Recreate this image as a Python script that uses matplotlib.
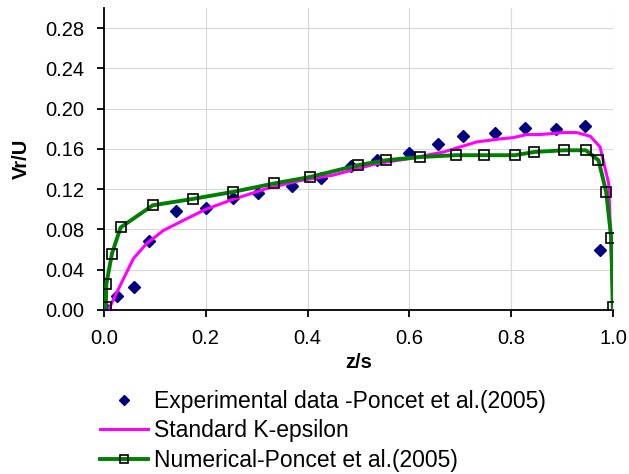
import matplotlib
matplotlib.use("Agg")
import matplotlib.pyplot as plt

plt.rcParams['font.family'] = ['Liberation Sans', 'DejaVu Sans']

# experimental data (diamonds)
exp_z = [0.0, 0.025, 0.06, 0.088, 0.141, 0.2, 0.254, 0.303, 0.369, 0.426,
         0.485, 0.536, 0.599, 0.655, 0.706, 0.767, 0.826, 0.888, 0.945, 0.973]
exp_v = [0.003, 0.014, 0.0225, 0.069, 0.0985, 0.1015, 0.111, 0.1164, 0.1233, 0.1316,
         0.143, 0.1495, 0.156, 0.1647, 0.173, 0.176, 0.181, 0.1796, 0.183, 0.0595]

# standard k-epsilon
ke_z = [0.011, 0.028, 0.058, 0.084, 0.117, 0.156, 0.2, 0.254, 0.32, 0.385,
        0.45, 0.536, 0.601, 0.667, 0.732, 0.778, 0.804, 0.83, 0.856, 0.902,
        0.928, 0.955, 0.974, 0.991, 1.0]
ke_v = [0.002, 0.02, 0.051, 0.066, 0.079, 0.089, 0.100, 0.110, 0.1207, 0.1285,
        0.134, 0.1455, 0.1505, 0.157, 0.167, 0.170, 0.1713, 0.1743, 0.1743, 0.1763,
        0.1763, 0.1726, 0.162, 0.1257, 0.0]

# numerical Poncet et al. (2005)
num_z = [0.004, 0.005, 0.016, 0.033, 0.096, 0.175, 0.254, 0.334, 0.405, 0.498,
         0.554, 0.621, 0.691, 0.747, 0.807, 0.845, 0.904, 0.946, 0.971, 0.986,
         0.996, 0.999]
num_v = [0.003, 0.0255, 0.056, 0.082, 0.104, 0.1104, 0.1174, 0.1257, 0.1322, 0.1438,
         0.1488, 0.152, 0.1538, 0.1538, 0.1538, 0.157, 0.1587, 0.1587, 0.1488, 0.1174,
         0.0717, 0.003]

fig = plt.figure(figsize=(6.29, 4.74), dpi=100)
ax = fig.add_axes([0.165, 0.346, 0.81, 0.637])

ax.plot(exp_z, exp_v, linestyle='none', marker='D', markersize=6.5,
        color='#000080', label='Experimental data -Poncet et al.(2005)', zorder=3)
ax.plot(ke_z, ke_v, color='#ff00ff', linewidth=2.2, label='Standard K-epsilon', zorder=4)
ax.plot(num_z, num_v, color='#008000', linewidth=2.8, marker='s', markersize=7.5,
        markerfacecolor='none', markeredgecolor='black', markeredgewidth=1.2,
        label='Numerical-Poncet et al.(2005)', zorder=5)

ax.set_xlim(0, 1.0)
ax.set_ylim(0, 0.30)
ax.set_xticks([0.0, 0.2, 0.4, 0.6, 0.8, 1.0])
ax.set_xticklabels(['0.0', '0.2', '0.4', '0.6', '0.8', '1.0'])
ax.set_yticks([0.00, 0.04, 0.08, 0.12, 0.16, 0.20, 0.24, 0.28])
ax.set_yticklabels(['0.00', '0.04', '0.08', '0.12', '0.16', '0.20', '0.24', '0.28'])
ax.grid(True, color='#d8d8d8', linewidth=0.8)
ax.set_axisbelow(True)
ax.spines['top'].set_visible(False)
ax.spines['right'].set_visible(False)
ax.spines['left'].set_linewidth(1.3)
ax.spines['bottom'].set_linewidth(1.3)
ax.tick_params(labelsize=14.5, length=5, width=1.3, direction='out', pad=9)
ax.set_xlabel('z/s', fontsize=14.5, fontweight='bold', labelpad=3)
ax.set_ylabel('Vr/U', fontsize=14.5, fontweight='bold', labelpad=10)

leg = fig.legend(loc='upper left', bbox_to_anchor=(100 / 629, 1 - 390 / 474), frameon=False,
                 fontsize=16.5, handlelength=2.1, handletextpad=0.25, labelspacing=0.28,
                 borderaxespad=0, borderpad=0, markerscale=0.85)

fig.savefig('out.png', dpi=100)
